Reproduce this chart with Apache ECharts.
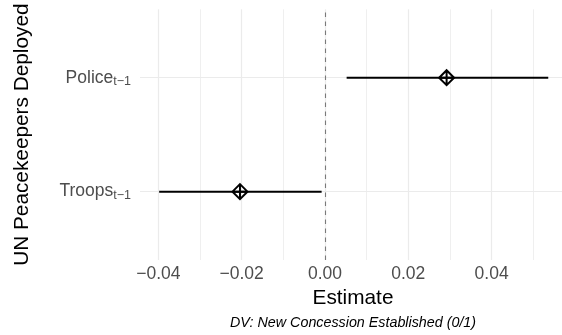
<!DOCTYPE html>
<html>
<head>
<meta charset="utf-8">
<script src="https://cdn.jsdelivr.net/npm/echarts@6/dist/echarts.min.js"></script>
<style>html,body{margin:0;padding:0;background:#fff;}#c{width:562px;height:335px;}</style>
</head>
<body>
<div id="c"></div>
<script>
const categories = ['Police', 'Troops'];
const catPos = [2, 1];
const estimates = [0.0292, -0.0204];
const lower = [0.0052, -0.0398];
const upper = [0.0536, -0.0008];
const majorTicks = [-0.04, -0.02, 0, 0.02, 0.04];
const minorTicks = [-0.03, -0.01, 0.01, 0.03, 0.05];
const xTitle = 'Estimate';
const yTitle = 'UN Peacekeepers Deployed';
const caption = 'DV: New Concession Established (0/1)';

const FONT = 'Liberation Sans';
const chart = echarts.init(document.getElementById('c'));

const errData = categories.map((c, i) => [lower[i], upper[i], catPos[i]]);
const ptData = categories.map((c, i) => [estimates[i], catPos[i]]);
const labelOf = {};
categories.forEach((c, i) => { labelOf[catPos[i]] = c; });

const gridLines = [];
majorTicks.forEach(v => gridLines.push({xAxis: v, lineStyle: {color: '#ebebeb', width: 1.2, type: 'solid'}}));
minorTicks.forEach(v => gridLines.push({xAxis: v, lineStyle: {color: '#efefef', width: 1, type: 'solid'}}));
catPos.forEach(v => gridLines.push({yAxis: v, lineStyle: {color: '#ebebeb', width: 1.2, type: 'solid'}}));

chart.setOption({
  animation: false,
  backgroundColor: '#fff',
  grid: {left: 140, right: 0, top: 9.3, height: 250.7, containLabel: false},
  xAxis: {
    type: 'value', min: -0.0444, max: 0.0569,
    axisLine: {show: false}, axisTick: {show: false}, splitLine: {show: false},
    axisLabel: {
      customValues: majorTicks, margin: 5,
      fontFamily: FONT, fontSize: 17.5, color: '#4d4d4d',
      formatter: v => (v < -1e-9 ? '\u2212' : '') + Math.abs(v).toFixed(2)
    },
    name: xTitle, nameLocation: 'middle', nameGap: 24,
    nameTextStyle: {fontFamily: FONT, fontSize: 20.8, color: '#000', padding: [0, 0, 0, 4]}
  },
  yAxis: {
    type: 'value', min: 0.4, max: 2.6,
    axisLine: {show: false}, axisTick: {show: false}, splitLine: {show: false},
    axisLabel: {
      customValues: catPos, margin: 9,
      formatter: v => '{m|' + labelOf[Math.round(v)] + '}{s|t\u22121}',
      rich: {
        m: {fontFamily: FONT, fontSize: 17.5, color: '#4d4d4d', lineHeight: 20},
        s: {fontFamily: FONT, fontSize: 12.5, color: '#4d4d4d', lineHeight: 12, padding: [8, 0, 0, 0]}
      }
    },
    name: yTitle, nameLocation: 'middle', nameGap: 107, nameRotate: 90,
    nameTextStyle: {fontFamily: FONT, fontSize: 20.8, color: '#000'}
  },
  graphic: [{
    type: 'text', left: 353 - 123, top: 316,
    style: {text: caption, font: 'italic 14.3px "Liberation Sans"', fill: '#000'}
  }],
  series: [
    {
      type: 'line', data: [], z: 1, silent: true,
      markLine: {z: 1, silent: true, symbol: 'none', label: {show: false}, data: gridLines, animation: false}
    },
    {
      type: 'line', data: [], z: 2, silent: true,
      markLine: {z: 2, silent: true, symbol: 'none', label: {show: false}, animation: false,
        data: [{xAxis: 0, lineStyle: {color: '#7a7a7a', width: 1.1, type: [4.5, 4.5]}}]}
    },
    {
      type: 'custom', z: 3, silent: true,
      data: errData,
      encode: {x: [0, 1], y: 2},
      renderItem: (params, api) => {
        const p1 = api.coord([api.value(0), api.value(2)]);
        const p2 = api.coord([api.value(1), api.value(2)]);
        return {type: 'line', shape: {x1: p1[0], y1: p1[1], x2: p2[0], y2: p2[1]},
                style: {stroke: '#000', lineWidth: 2}};
      }
    },
    {
      type: 'scatter', z: 4, silent: true,
      data: ptData,
      symbol: 'path://M10,0 L20,10 L10,20 L0,10 Z M10,0 L10,20 M0,10 L20,10',
      symbolSize: 15,
      itemStyle: {color: 'rgba(0,0,0,0)', borderColor: '#000', borderWidth: 2, opacity: 1}
    }
  ]
});
</script>
</body>
</html>
